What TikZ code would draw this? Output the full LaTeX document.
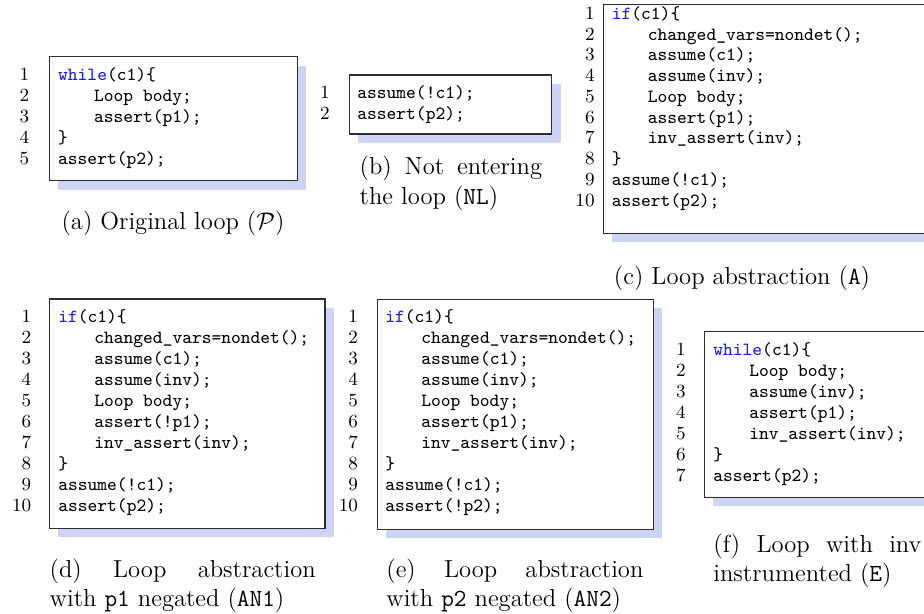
\documentclass[tikz,border=0pt]{standalone}
\definecolor{shadowc}{RGB}{205,212,245}
\definecolor{kwc}{RGB}{25,25,255}
\definecolor{framec}{RGB}{45,45,45}
\newcommand\codefont{\fontsize{9.3}{10.5}\selectfont\ttfamily}
\newcommand\codefontc{\fontsize{9.3}{10.375}\selectfont\ttfamily}
\newcommand\numfont{\fontsize{9.3}{10.5}\selectfont\rmfamily}
\newcommand\numfontc{\fontsize{9.3}{10.375}\selectfont\rmfamily}
\newcommand\capfont{\fontsize{12.3}{14.75}\selectfont}
\newcommand\kw[1]{\textcolor{kwc}{#1}}
\newcommand\ind{\hspace*{18pt}}
\tikzset{
  shadowrect/.style={fill=shadowc},
  framerect/.style={draw=framec, fill=white, line width=0.6pt},
  codetext/.style={anchor=base west, inner sep=0pt, font=\codefont},
  codetextc/.style={anchor=base west, inner sep=0pt, font=\codefontc},
  numtext/.style={anchor=base east, inner sep=0pt, font=\numfont},
  numtextc/.style={anchor=base east, inner sep=0pt, font=\numfontc},
  captext/.style={inner sep=0pt, font=\capfont},
  capjust/.style={captext, anchor=base west, align=justify},
}
\begin{document}
\begin{tikzpicture}[x=0.5pt,y=-0.5pt]
\clip (0,0) rectangle (924,614);
\fill[white] (0,0) rectangle (924,614);

% (a)
\fill[shadowrect] (58.3,65.7) rectangle (306.3,189.7);
\draw[framerect] (49.3,56.7) rectangle (297.3,180.7);
\node[numtext] (na) at (29.5,80.7) {\begin{tabular}[t]{@{}r@{}}1\\2\\3\\4\\5\end{tabular}};
\node[codetext] (ca) at (57.8,80.7) {\begin{tabular}[t]{@{}l@{}}\kw{while}(c1)\{\\ \ind Loop body;\\ \ind assert(p1);\\ \}\\ assert(p2);\end{tabular}};
\node[captext, anchor=base] (capa) at (173,229.5) {(a) Original loop ($\mathcal{P}$)};

% (b)
\fill[shadowrect] (358.3,84) rectangle (560.7,143);
\draw[framerect] (349.3,75) rectangle (551.7,134);
\node[numtext] (nb) at (330,98.8) {\begin{tabular}[t]{@{}r@{}}1\\2\end{tabular}};
\node[codetext] (cb) at (357,98.8) {\begin{tabular}[t]{@{}l@{}}assume(!c1);\\ assert(p2);\end{tabular}};
\node[capjust, text width=91.2pt] (capb) at (359.3,175) {(b) Not entering\linebreak the loop (\texttt{NL})};

% (c)
\fill[shadowrect] (612.3,13.7) rectangle (949,242.3);
\draw[framerect] (603.3,4.7) rectangle (940,233.3);
\node[numtextc] (nc) at (595,19.3) {\begin{tabular}[t]{@{}r@{}}1\\2\\3\\4\\5\\6\\7\\8\\9\\10\end{tabular}};
\node[codetextc] (cc) at (611.5,19.3) {\begin{tabular}[t]{@{}l@{}}\kw{if}(c1)\{\\ \ind changed\_vars=nondet();\\ \ind assume(c1);\\ \ind assume(inv);\\ \ind Loop body;\\ \ind assert(p1);\\ \ind inv\_assert(inv);\\ \}\\ assume(!c1);\\ assert(p2);\end{tabular}};
\node[captext, anchor=base] (capc) at (742,285) {(c) Loop abstraction (\texttt{A})};

% (d)
\fill[shadowrect] (58.3,308) rectangle (334.3,537.3);
\draw[framerect] (49.3,299) rectangle (325,528.3);
\node[numtext] (nd) at (31.7,322.7) {\begin{tabular}[t]{@{}r@{}}1\\2\\3\\4\\5\\6\\7\\8\\9\\10\end{tabular}};
\node[codetext] (cd) at (58,322.7) {\begin{tabular}[t]{@{}l@{}}\kw{if}(c1)\{\\ \ind changed\_vars=nondet();\\ \ind assume(c1);\\ \ind assume(inv);\\ \ind Loop body;\\ \ind assert(!p1);\\ \ind inv\_assert(inv);\\ \}\\ assume(!c1);\\ assert(p2);\end{tabular}};
\node[capjust, text width=133pt] (capd) at (49.3,577) {(d) Loop abstraction\linebreak with \texttt{p1} negated (\texttt{AN1})};

% (e)
\fill[shadowrect] (386.3,308.3) rectangle (662.3,538.3);
\draw[framerect] (377.3,299.3) rectangle (653.3,529.3);
\node[numtext] (ne) at (358.3,322.7) {\begin{tabular}[t]{@{}r@{}}1\\2\\3\\4\\5\\6\\7\\8\\9\\10\end{tabular}};
\node[codetext] (ce) at (385,322.7) {\begin{tabular}[t]{@{}l@{}}\kw{if}(c1)\{\\ \ind changed\_vars=nondet();\\ \ind assume(c1);\\ \ind assume(inv);\\ \ind Loop body;\\ \ind assert(p1);\\ \ind inv\_assert(inv);\\ \}\\ assume(!c1);\\ assert(!p2);\end{tabular}};
\node[capjust, text width=128.5pt] (cape) at (386,577) {(e) Loop abstraction\linebreak with \texttt{p2} negated (\texttt{AN2})};

% (f)
\fill[shadowrect] (713.3,340.7) rectangle (949,506.3);
\draw[framerect] (704.3,331.7) rectangle (940,497.3);
\node[numtext] (nf) at (686,355) {\begin{tabular}[t]{@{}r@{}}1\\2\\3\\4\\5\\6\\7\end{tabular}};
\node[codetext] (cf) at (713,355) {\begin{tabular}[t]{@{}l@{}}\kw{while}(c1)\{\\ \ind Loop body;\\ \ind assume(inv);\\ \ind assert(p1);\\ \ind inv\_assert(inv);\\ \}\\ assert(p2);\end{tabular}};
\node[capjust, text width=104pt] (capf) at (713,552) {(f) Loop with inv\linebreak instrumented (\texttt{E})};
\end{tikzpicture}
\end{document}
